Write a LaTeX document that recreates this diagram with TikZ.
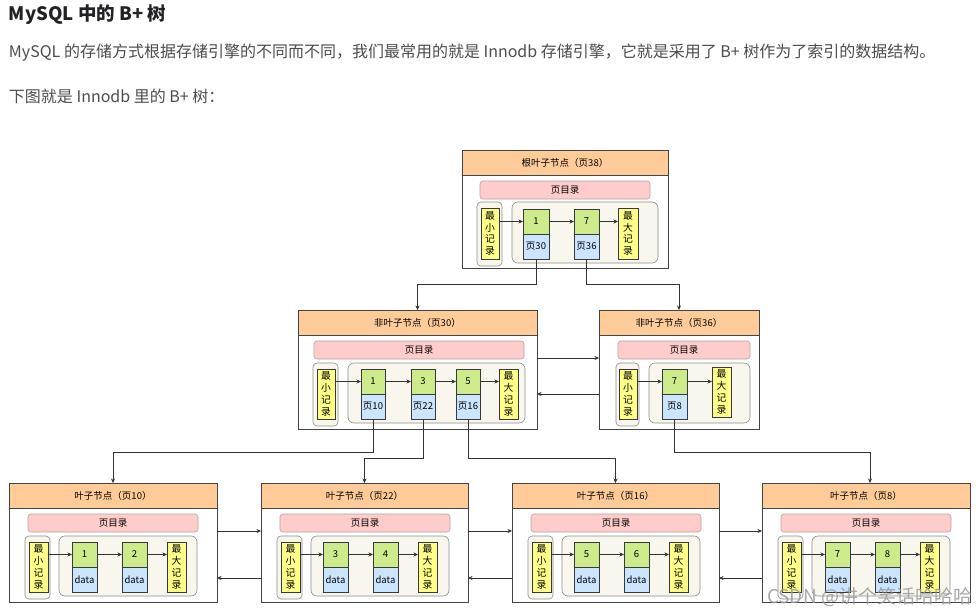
\documentclass[tikz,border=0pt]{standalone}
\usepackage{fontspec}
\setmainfont{Noto Sans CJK SC}
\usetikzlibrary{arrows.meta}
\definecolor{hdrc}{HTML}{FFCC99}
\definecolor{dirc}{HTML}{FFCCCC}
\definecolor{dirb}{HTML}{B5A3A3}
\definecolor{grpc}{HTML}{F9F7ED}
\definecolor{grpb}{HTML}{8C8C8C}
\definecolor{yelc}{HTML}{FFFF88}
\definecolor{keyc}{HTML}{CDEB8B}
\definecolor{ptrc}{HTML}{CCE5FF}
\definecolor{cellb}{HTML}{36393D}
\definecolor{linec}{HTML}{444444}
\definecolor{arrc}{HTML}{333333}
\definecolor{titlec}{HTML}{222226}
\definecolor{bodyc}{HTML}{4D4D4D}
\newcommand\lbl{\fontsize{9.5}{11}\selectfont}
\newcommand\vlbl{\fontsize{9.8}{11.8}\selectfont}
\newcommand\rbx[7]{\node[#1,minimum width={(#5)-(#3)},minimum height={(#6)-(#4)}] (#2) at ({((#3)+(#5))/2},{((#4)+(#6))/2}) {#7};}
\begin{document}
\begin{tikzpicture}[x=1pt,y=-1pt,
  every node/.style={inner sep=0pt,outer sep=0pt},
  outer/.style={draw=linec,fill=white,line width=0.9pt},
  hdr/.style={draw=linec,fill=hdrc,line width=0.9pt,font=\lbl},
  dir/.style={draw=dirb,fill=dirc,rounded corners=3pt,line width=0.6pt,font=\lbl},
  grp/.style={draw=grpb,fill=grpc,rounded corners=6pt,line width=0.6pt},
  mgrp/.style={grp,rounded corners=4pt},
  yel/.style={draw=cellb,fill=yelc,line width=0.5pt,align=center,font=\vlbl},
  key/.style={draw=cellb,fill=keyc,line width=0.5pt,font=\lbl},
  ptr/.style={draw=cellb,fill=ptrc,line width=0.5pt,font=\lbl},
  arr/.style={draw=arrc,line width=0.6pt,-{Stealth[length=4.5pt,width=4pt]}}]
\useasboundingbox (0,0) rectangle (980,615);
\fill[white] (0,0) rectangle (980,615);

\node[anchor=west,font=\bfseries\fontsize{18.5}{20}\selectfont,text=titlec] (title) at (9,15) {MySQL 中的 B+ 树};
\node[anchor=west,font=\fontsize{16}{18}\selectfont,text=bodyc] (line1) at (9,53) {MySQL 的存储方式根据存储引擎的不同而不同，我们最常用的就是 Innodb 存储引擎，它就是采用了 B+ 树作为了索引的数据结构。};
\node[anchor=west,font=\fontsize{16}{18}\selectfont,text=bodyc] (line2) at (9,96) {下图就是 Innodb 里的 B+ 树：};

% ---------- root page 38
\begin{scope}[shift={(462,150)}]
\rbx{outer}{R}{0}{0}{206}{118}{}
\rbx{hdr}{Rh}{0}{0}{206}{25}{根叶子节点（页38）}
\rbx{dir}{Rd}{18}{31}{188}{49}{页目录}
\rbx{mgrp}{Rmg}{15}{52}{40}{116}{}
\rbx{yel}{Rmin}{19}{58}{37}{109}{最\\小\\记\\录}
\rbx{grp}{Rc}{50}{52}{196}{113}{}
\rbx{key}{Rk1}{61}{59}{87}{84}{1}
\rbx{ptr}{Rp1}{61}{84}{87}{109}{页30}
\rbx{key}{Rk2}{112}{59}{137}{84}{7}
\rbx{ptr}{Rp2}{112}{84}{137}{109}{页36}
\rbx{yel}{Rmax}{156}{58}{176}{109}{最\\大\\记\\录}
\end{scope}
\draw[arr] (Rmin.east |- Rk1) -- (Rk1.west);
\draw[arr] (Rk1.east) -- (Rk2.west);
\draw[arr] (Rk2.east) -- (Rk2.east -| Rmax.west);

% ---------- non-leaf page 30
\begin{scope}[shift={(298,310)}]
\rbx{outer}{ML}{0}{0}{239}{119}{}
\rbx{hdr}{MLh}{0}{0}{239}{25}{非叶子节点（页30）}
\rbx{dir}{MLd}{16}{31}{226}{49}{页目录}
\rbx{mgrp}{MLmg}{15}{53}{40}{116}{}
\rbx{yel}{MLmin}{19}{59}{37}{109}{最\\小\\记\\录}
\rbx{grp}{MLc}{50}{53}{227}{113}{}
\rbx{key}{MLk1}{63}{59}{87}{84}{1}
\rbx{ptr}{MLp1}{63}{84}{87}{109}{页10}
\rbx{key}{MLk2}{113}{59}{137}{84}{3}
\rbx{ptr}{MLp2}{113}{84}{137}{109}{页22}
\rbx{key}{MLk3}{158}{59}{182}{84}{5}
\rbx{ptr}{MLp3}{158}{84}{182}{109}{页16}
\rbx{yel}{MLmax}{201}{59}{220}{109}{最\\大\\记\\录}
\end{scope}
\draw[arr] (MLmin.east |- MLk1) -- (MLk1.west);
\draw[arr] (MLk1.east) -- (MLk2.west);
\draw[arr] (MLk2.east) -- (MLk3.west);
\draw[arr] (MLk3.east) -- (MLk3.east -| MLmax.west);

% ---------- non-leaf page 36
\begin{scope}[shift={(599,310)}]
\rbx{outer}{MR}{0}{0}{160}{119}{}
\rbx{hdr}{MRh}{0}{0}{160}{25}{非叶子节点（页36）}
\rbx{dir}{MRd}{19}{31}{151}{49}{页目录}
\rbx{mgrp}{MRmg}{17}{53}{40}{116}{}
\rbx{yel}{MRmin}{20}{59}{38}{109}{最\\小\\记\\录}
\rbx{grp}{MRc}{50}{53}{151}{113}{}
\rbx{key}{MRk1}{63}{59}{88}{84}{7}
\rbx{ptr}{MRp1}{63}{84}{88}{109}{页8}
\rbx{yel}{MRmax}{113}{57}{132}{107}{最\\大\\记\\录}
\end{scope}
\draw[arr] (MRmin.east |- MRk1) -- (MRk1.west);
\draw[arr] (MRk1.east) -- (MRk1.east -| MRmax.west);

% ---------- leaf pages
\begin{scope}[shift={(9,483)}]
\rbx{outer}{LA}{0}{0}{208}{119}{}
\rbx{hdr}{LAh}{0}{0}{208}{25}{叶子节点（页10）}
\rbx{dir}{LAd}{19}{31}{189}{49}{页目录}
\rbx{mgrp}{LAmg}{16}{53}{41}{116}{}
\rbx{yel}{LAmin}{20}{59}{39}{109}{最\\小\\记\\录}
\rbx{grp}{LAc}{50}{53}{188}{113}{}
\rbx{key}{LAk1}{63}{59}{88}{84}{1}
\rbx{ptr}{LAp1}{63}{84}{88}{109}{data}
\rbx{key}{LAk2}{113}{59}{138}{84}{2}
\rbx{ptr}{LAp2}{113}{84}{138}{109}{data}
\rbx{yel}{LAmax}{158}{59}{177}{109}{最\\大\\记\\录}
\end{scope}
\begin{scope}[shift={(261,483)}]
\rbx{outer}{LB}{0}{0}{207}{119}{}
\rbx{hdr}{LBh}{0}{0}{207}{25}{叶子节点（页22）}
\rbx{dir}{LBd}{19}{31}{189}{49}{页目录}
\rbx{mgrp}{LBmg}{16}{53}{41}{116}{}
\rbx{yel}{LBmin}{20}{59}{39}{109}{最\\小\\记\\录}
\rbx{grp}{LBc}{50}{53}{188}{113}{}
\rbx{key}{LBk1}{62}{59}{87}{84}{3}
\rbx{ptr}{LBp1}{62}{84}{87}{109}{data}
\rbx{key}{LBk2}{112}{59}{137}{84}{4}
\rbx{ptr}{LBp2}{112}{84}{137}{109}{data}
\rbx{yel}{LBmax}{157}{59}{176}{109}{最\\大\\记\\录}
\end{scope}
\begin{scope}[shift={(512,483)}]
\rbx{outer}{LC}{0}{0}{207}{119}{}
\rbx{hdr}{LCh}{0}{0}{207}{25}{叶子节点（页16）}
\rbx{dir}{LCd}{19}{31}{189}{49}{页目录}
\rbx{mgrp}{LCmg}{16}{53}{41}{116}{}
\rbx{yel}{LCmin}{20}{59}{39}{109}{最\\小\\记\\录}
\rbx{grp}{LCc}{50}{53}{188}{113}{}
\rbx{key}{LCk1}{62}{59}{87}{84}{5}
\rbx{ptr}{LCp1}{62}{84}{87}{109}{data}
\rbx{key}{LCk2}{112}{59}{137}{84}{6}
\rbx{ptr}{LCp2}{112}{84}{137}{109}{data}
\rbx{yel}{LCmax}{157}{59}{176}{109}{最\\大\\记\\录}
\end{scope}
\begin{scope}[shift={(762,483)}]
\rbx{outer}{LD}{0}{0}{208}{119}{}
\rbx{hdr}{LDh}{0}{0}{208}{25}{叶子节点（页8）}
\rbx{dir}{LDd}{19}{31}{189}{49}{页目录}
\rbx{mgrp}{LDmg}{16}{53}{41}{116}{}
\rbx{yel}{LDmin}{20}{59}{39}{109}{最\\小\\记\\录}
\rbx{grp}{LDc}{50}{53}{188}{113}{}
\rbx{key}{LDk1}{63}{59}{88}{84}{7}
\rbx{ptr}{LDp1}{63}{84}{88}{109}{data}
\rbx{key}{LDk2}{113}{59}{138}{84}{8}
\rbx{ptr}{LDp2}{113}{84}{138}{109}{data}
\rbx{yel}{LDmax}{158}{59}{177}{109}{最\\大\\记\\录}
\end{scope}
\foreach \p in {LA,LB,LC,LD}{
  \draw[arr] (\p min.east |- \p k1) -- (\p k1.west);
  \draw[arr] (\p k1.east) -- (\p k2.west);
  \draw[arr] (\p k2.east) -- (\p k2.east -| \p max.west);
}

% ---------- tree connectors
\coordinate (yr) at (0,284);
\coordinate (ya) at (0,452);
\coordinate (yb) at (0,458);
\draw[arr] (Rp1.south) -- (Rp1.south |- yr) -| (ML.north);
\draw[arr] (Rp2.south) -- (Rp2.south |- yr) -| (MR.north);
\draw[arr] (MLp1.south) -- (MLp1.south |- ya) -| (LA.north);
\draw[arr] (MLp2.south) -- (MLp2.south |- yb) -| (LB.north);
\draw[arr] (MLp3.south) -- (MLp3.south |- yb) -| (LC.north);
\draw[arr] (MRp1.south) -- (MRp1.south |- ya) -| ([xshift=4pt]LD.north);

% ---------- sibling links
\coordinate (ym1) at (0,358);
\coordinate (ym2) at (0,394);
\coordinate (yl1) at (0,531);
\coordinate (yl2) at (0,578);
\draw[arr] (ML.east |- ym1) -- (MR.west |- ym1);
\draw[arr] (MR.west |- ym2) -- (ML.east |- ym2);
\draw[arr] (LA.east |- yl1) -- (LB.west |- yl1);
\draw[arr] (LB.west |- yl2) -- (LA.east |- yl2);
\draw[arr] (LB.east |- yl1) -- (LC.west |- yl1);
\draw[arr] (LC.west |- yl2) -- (LB.east |- yl2);
\draw[arr] (LC.east |- yl1) -- (LD.west |- yl1);
\draw[arr] (LD.west |- yl2) -- (LC.east |- yl2);

% ---------- watermark
\node[anchor=east,font=\fontsize{19}{19}\selectfont,text=black!40,opacity=0.85] (wm) at (972,597) {CSDN @讲个笑话哈哈哈};
\end{tikzpicture}
\end{document}
